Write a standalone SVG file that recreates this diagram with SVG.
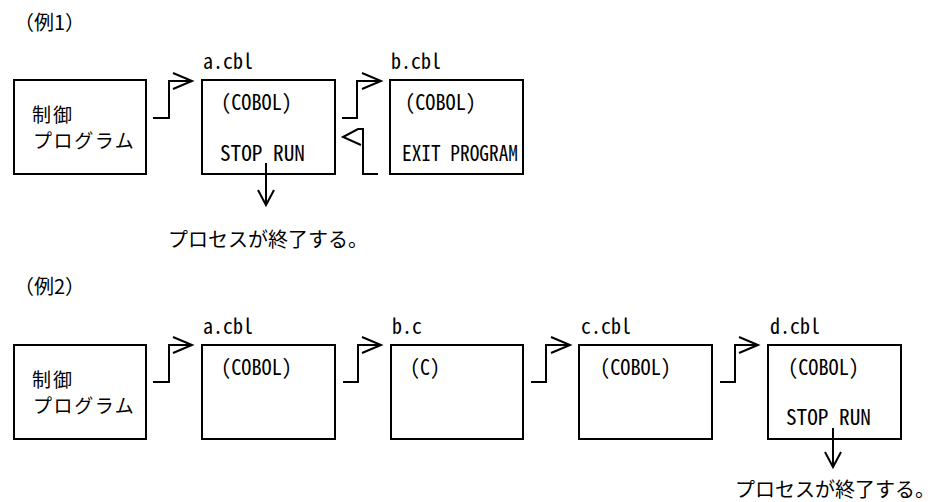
<svg xmlns="http://www.w3.org/2000/svg" width="934" height="502" viewBox="0 0 934 502">
<style>
.box{fill:#fff;stroke:#000;stroke-width:2}
.ln{fill:none;stroke:#000;stroke-width:2;stroke-linejoin:miter}
.jp{font-family:"Noto Sans CJK JP","Noto Sans CJK SC",sans-serif;font-size:20px;fill:#000}
.cj{font-family:"Noto Sans CJK JP","Noto Sans CJK SC",sans-serif;font-size:19px;fill:#000}
.mo{font-family:"Noto Sans Mono CJK JP","Liberation Mono",monospace;font-size:21px;fill:#000}
</style>
<rect width="934" height="502" fill="#fff"/>
<text class="jp" x="14" y="30">（例1）</text>
<text class="jp" x="14" y="294">（例2）</text>

<g id="ex1-ctrl"><rect class="box" x="14" y="80" width="132" height="94"/>
<text class="cj"><tspan x="32" y="122" letter-spacing="2">制御</tspan><tspan x="33" y="148" letter-spacing="1.6">プログラム</tspan></text></g>
<g id="ex1-a"><rect class="box" x="202" y="80" width="133" height="94"/>
<text class="mo" x="203" y="69" textLength="50" lengthAdjust="spacingAndGlyphs">a.cbl</text>
<text class="mo" x="221" y="110" textLength="71" lengthAdjust="spacingAndGlyphs">(COBOL)</text>
<text class="mo" x="220" y="161" textLength="85" lengthAdjust="spacingAndGlyphs">STOP RUN</text></g>
<g id="ex1-b"><rect class="box" x="390" y="80" width="133" height="94"/>
<text class="mo" x="391" y="69" textLength="50" lengthAdjust="spacingAndGlyphs">b.cbl</text>
<text class="mo" x="405" y="110" textLength="71" lengthAdjust="spacingAndGlyphs">(COBOL)</text>
<text class="mo" x="402" y="161" textLength="116" lengthAdjust="spacingAndGlyphs">EXIT PROGRAM</text></g>
<g id="ex1-end"><text class="jp" x="168" y="247">プロセスが終了する。</text></g>

<g id="ex2-ctrl"><rect class="box" x="14" y="345" width="132" height="94"/>
<text class="cj"><tspan x="32" y="387" letter-spacing="2">制御</tspan><tspan x="33" y="413" letter-spacing="1.6">プログラム</tspan></text></g>
<g id="ex2-a"><rect class="box" x="202" y="345" width="133" height="94"/>
<text class="mo" x="203" y="334" textLength="50" lengthAdjust="spacingAndGlyphs">a.cbl</text>
<text class="mo" x="221" y="375" textLength="71" lengthAdjust="spacingAndGlyphs">(COBOL)</text></g>
<g id="ex2-b"><rect class="box" x="391" y="345" width="132" height="94"/>
<text class="mo" x="392" y="334" textLength="30" lengthAdjust="spacingAndGlyphs">b.c</text>
<text class="mo" x="410" y="375" textLength="30" lengthAdjust="spacingAndGlyphs">(C)</text></g>
<g id="ex2-c"><rect class="box" x="579" y="345" width="133" height="94"/>
<text class="mo" x="581" y="334" textLength="50" lengthAdjust="spacingAndGlyphs">c.cbl</text>
<text class="mo" x="600" y="375" textLength="71" lengthAdjust="spacingAndGlyphs">(COBOL)</text></g>
<g id="ex2-d"><rect class="box" x="768" y="345" width="133" height="94"/>
<text class="mo" x="770" y="334" textLength="50" lengthAdjust="spacingAndGlyphs">d.cbl</text>
<text class="mo" x="788" y="375" textLength="71" lengthAdjust="spacingAndGlyphs">(COBOL)</text>
<text class="mo" x="786" y="425" textLength="85" lengthAdjust="spacingAndGlyphs">STOP RUN</text></g>
<g id="ex2-end"><text class="jp" x="735" y="497">プロセスが終了する。</text></g>

<g id="connectors">
<path class="ln" d="M153,118 H169 V81 H191 M173,73 L192,81 L173,89"/>
<path class="ln" d="M342,118 H357 V81 H380 M362,73 L381,81 L362,89"/>
<path class="ln" d="M378,174 H363 V129 H358 L343,137 L361,145"/>
<path class="ln" d="M266,163 V205 M258,190 L266,205 L274,190"/>
<path class="ln" d="M153,382 H169 V345 H191 M173,337 L192,345 L173,353"/>
<path class="ln" d="M343,382 H358 V345 H380 M362,337 L381,345 L362,353"/>
<path class="ln" d="M531,382 H546 V345 H569 M551,337 L570,345 L551,353"/>
<path class="ln" d="M720,382 H735 V345 H757 M739,337 L758,345 L739,353"/>
<path class="ln" d="M833,428 V467 M825,452 L833,467 L841,452"/>
</g>
</svg>
